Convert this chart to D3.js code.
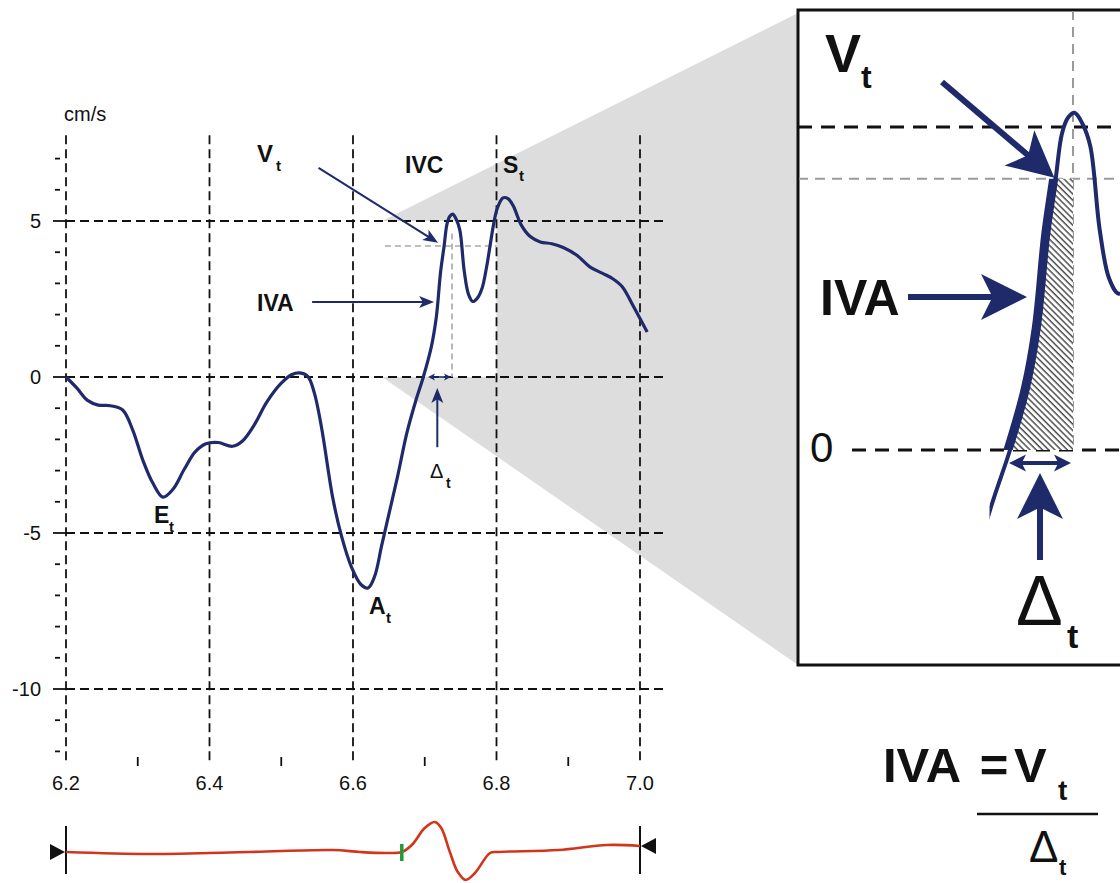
<!DOCTYPE html>
<html><head><meta charset="utf-8">
<script src="https://cdn.jsdelivr.net/npm/d3@7"></script>
<style>
body{margin:0;background:#fff;}
svg{display:block;font-family:"Liberation Sans",Arial,Helvetica,sans-serif;}
</style>
</head><body>
<svg id="c" width="1120" height="883"></svg>
<script>
// ---------------- DATA ----------------
const velTime = [6.200,6.215,6.230,6.245,6.262,6.279,6.293,6.307,6.321,6.335,6.349,6.365,6.380,6.395,6.412,6.432,6.446,6.462,6.480,6.500,6.515,6.526,6.537,6.546,6.556,6.572,6.584,6.598,6.611,6.621,6.630,6.640,6.651,6.662,6.675,6.687,6.698,6.709,6.716,6.722,6.727,6.731,6.735,6.739,6.744,6.749,6.755,6.761,6.767,6.774,6.780,6.786,6.791,6.796,6.801,6.809,6.816,6.823,6.835,6.847,6.861,6.877,6.893,6.912,6.930,6.948,6.962,6.975,6.990,7.010];
const velValue = [0.00,-0.35,-0.75,-0.90,-0.92,-1.06,-1.70,-2.66,-3.40,-3.85,-3.60,-2.95,-2.40,-2.14,-2.10,-2.22,-2.05,-1.55,-0.80,-0.20,0.08,0.13,0.02,-0.50,-1.60,-3.90,-5.10,-6.10,-6.65,-6.76,-6.40,-5.40,-4.30,-3.20,-1.80,-0.80,0.00,0.95,1.90,3.35,4.20,4.90,5.15,5.22,5.05,4.70,3.40,2.65,2.42,2.55,2.85,3.50,4.20,4.90,5.40,5.74,5.72,5.50,4.85,4.50,4.33,4.27,4.15,3.90,3.53,3.32,3.15,2.90,2.30,1.44];
const ecgTime  = [6.200,6.317,6.456,6.572,6.610,6.649,6.668,6.682,6.700,6.714,6.723,6.735,6.746,6.757,6.770,6.791,6.802,6.886,6.954,7.000];
const ecgValue = [0.00,-0.02,0.00,0.02,0.00,-0.01,0.00,0.07,0.24,0.30,0.24,0.00,-0.20,-0.28,-0.21,-0.01,0.00,0.02,0.07,0.06];
const xTickValues = [6.2,6.4,6.6,6.8,7.0];
const xTickLabels = ["6.2","6.4","6.6","6.8","7.0"];
const xMinorTicks = [6.3,6.5,6.7,6.9];
const yTickValues = [5,0,-5,-10];
const yTickLabels = ["5","0","-5","-10"];
const yMinorTicks = [7,6,4,3,2,1,-1,-2,-3,-4,-6,-7,-8,-9,-11,-12];
const vtValue = 4.2;      // V_t level
const tPeak = 6.738;      // IVC peak time (end of Δt)
const tZero = 6.698;      // zero crossing (start of Δt)
const ecgMarkerTime = 6.668;

// ---------------- SETUP ----------------
const svg = d3.select("#c");
const NAVY = "#1f2a6b";
const x  = d3.scaleLinear().domain([6.2, 7.0]).range([66, 640]);
const y  = d3.scaleLinear().domain([0, 5]).range([377, 221]);
const xi = d3.scaleLinear().domain([tZero, tPeak]).range([1010, 1073]);
const yi = d3.scaleLinear().domain([0, 5]).range([450, 127]);
const ye = d3.scaleLinear().domain([0, 0.3]).range([852, 822]);
const vel = velTime.map((t, i) => ({t, v: velValue[i]}));
const ecg = ecgTime.map((t, i) => ({t, v: ecgValue[i]}));

const defs = svg.append("defs");
defs.append("clipPath").attr("id", "insetClip").append("rect")
  .attr("x", 799).attr("y", 11).attr("width", 330).attr("height", 653);
defs.append("clipPath").attr("id", "insetCurveClip").append("rect")
  .attr("x", xi(6.685)).attr("y", 11).attr("width", 200).attr("height", 653);
defs.append("clipPath").attr("id", "bandClip").append("rect")
  .attr("x", 900).attr("y", yi(vtValue)).attr("width", xi(tPeak) - 900).attr("height", yi(0) - yi(vtValue));
const pat = defs.append("pattern").attr("id", "hatch").attr("patternUnits", "userSpaceOnUse")
  .attr("width", 4.4).attr("height", 4.4).attr("patternTransform", "rotate(-45)");
pat.append("rect").attr("width", 4.4).attr("height", 4.4).attr("fill", "#fff");
pat.append("line").attr("x1", 1).attr("y1", 0).attr("x2", 1).attr("y2", 4.4)
  .attr("stroke", "#333").attr("stroke-width", 1.3);

function arrow(g, x1, y1, x2, y2, sw, hl, hw, color) {
  const a = Math.atan2(y2 - y1, x2 - x1), c = Math.cos(a), s = Math.sin(a);
  const nx = x2 - hl * 0.75 * c, ny = y2 - hl * 0.75 * s;
  g.append("line").attr("x1", x1).attr("y1", y1).attr("x2", nx + c).attr("y2", ny + s)
    .attr("stroke", color).attr("stroke-width", sw);
  const bx = x2 - hl * c, by = y2 - hl * s, px = -s, py = c;
  g.append("polygon").attr("points", [
    [x2, y2], [bx + px * hw / 2, by + py * hw / 2], [nx, ny], [bx - px * hw / 2, by - py * hw / 2]
  ].map(p => p.join(",")).join(" ")).attr("fill", color);
}
function txt(g, xx, yy, s, size, weight, anchor) {
  return g.append("text").attr("x", xx).attr("y", yy).text(s)
    .attr("font-size", size).attr("font-weight", weight || "normal")
    .attr("text-anchor", anchor || "start").attr("fill", "#111");
}

// ---------------- ZOOM WEDGE ----------------
const sx0 = x(6.6405), sx1 = x(6.8), sy0 = y(5), sy1 = y(0);
svg.append("polygon").attr("points", `${sx0},${sy0} 798,13 798,665 ${sx0},${sy1}`).attr("fill", "#dddddd");
svg.append("rect").attr("x", sx0).attr("y", sy0).attr("width", sx1 - sx0).attr("height", sy1 - sy0).attr("fill", "#fff");

// ---------------- MAIN GRID / AXES ----------------
const grid = svg.append("g").attr("stroke", "#111").attr("stroke-width", 1.8);
const yTop = y(7.75), yBot = y(-12.3);
grid.selectAll(".vg").data(xTickValues).join("line")
  .attr("x1", d => x(d)).attr("x2", d => x(d)).attr("y1", yTop).attr("y2", yBot)
  .attr("stroke-dasharray", "9,5");
grid.selectAll(".hg").data(yTickValues).join("line")
  .attr("x1", x(6.2)).attr("x2", 668).attr("y1", d => y(d)).attr("y2", d => y(d))
  .attr("stroke-dasharray", "9,5");
grid.selectAll(".ymaj").data(yTickValues).join("line")
  .attr("x1", 53).attr("x2", x(6.2)).attr("y1", d => y(d)).attr("y2", d => y(d));
grid.selectAll(".ymin").data(yMinorTicks).join("line")
  .attr("x1", 55).attr("x2", 60).attr("y1", d => y(d)).attr("y2", d => y(d));
grid.selectAll(".xmin").data(xMinorTicks).join("line")
  .attr("x1", d => x(d)).attr("x2", d => x(d)).attr("y1", 757).attr("y2", 766);

const lab = svg.append("g");
yTickValues.forEach((v, i) => txt(lab, 41, y(v) + 7, yTickLabels[i], 20, "normal", "end"));
xTickValues.forEach((v, i) => txt(lab, x(v), 790, xTickLabels[i], 20, "normal", "middle"));
txt(lab, 64, 121, "cm/s", 20);

// gray Vt guides
svg.append("line").attr("x1", x(6.6445)).attr("x2", x(6.8)).attr("y1", y(vtValue)).attr("y2", y(vtValue))
  .attr("stroke", "#a8a8a8").attr("stroke-width", 1.6).attr("stroke-dasharray", "6,4");
svg.append("line").attr("x1", x(tPeak)).attr("x2", x(tPeak)).attr("y1", y(4.6)).attr("y2", y(0))
  .attr("stroke", "#a8a8a8").attr("stroke-width", 1.6).attr("stroke-dasharray", "6,4");

// ---------------- MAIN CURVE ----------------
const line = d3.line().x(d => x(d.t)).y(d => y(d.v)).curve(d3.curveCatmullRom.alpha(0.5));
svg.append("path").datum(vel).attr("d", line).attr("fill", "none")
  .attr("stroke", NAVY).attr("stroke-width", 3.2).attr("stroke-linejoin", "round");

// annotations (main)
const ann = svg.append("g");
arrow(ann, x(6.552), y(6.7), x(6.7185), y(4.3), 2, 15, 12, NAVY);
arrow(ann, x(6.543), y(2.4), x(6.713), y(2.4), 2, 15, 12, NAVY);
arrow(ann, x(6.7175), y(-2.25), x(6.7175), y(-0.35), 2, 15, 12, NAVY);
arrow(ann, x(6.72), y(0), x(tPeak) - 1, y(0), 1.6, 7, 7, NAVY);
arrow(ann, x(6.72), y(0), x(6.7045), y(0), 1.6, 7, 7, NAVY);
txt(ann, 257, 162, "V", 24, "bold"); txt(ann, 276, 171, "t", 15, "bold");
txt(ann, 257, 311, "IVA", 23, "bold");
txt(ann, 405, 173, "IVC", 23, "bold");
txt(ann, 503, 173, "S", 23, "bold"); txt(ann, 519, 181, "t", 15, "bold");
txt(ann, 154, 523, "E", 23, "bold"); txt(ann, 169, 532, "t", 15, "bold");
txt(ann, 369, 614, "A", 23, "bold"); txt(ann, 386, 623, "t", 15, "bold");
txt(ann, 430, 478, "Δ", 20, "normal"); txt(ann, 446, 488, "t", 14, "bold");

// ---------------- ECG ----------------
const eline = d3.line().x(d => x(d.t)).y(d => ye(d.v)).curve(d3.curveCatmullRom.alpha(0.5));
const eg = svg.append("g");
eg.append("line").attr("x1", x(6.2)).attr("x2", x(6.2)).attr("y1", 826).attr("y2", 874).attr("stroke", "#111").attr("stroke-width", 2);
eg.append("line").attr("x1", x(7.0)).attr("x2", x(7.0)).attr("y1", 826).attr("y2", 874).attr("stroke", "#111").attr("stroke-width", 2);
eg.append("polygon").attr("points", `${x(6.2) - 1},${ye(0)} ${x(6.2) - 16},${ye(0) - 8} ${x(6.2) - 16},${ye(0) + 8}`).attr("fill", "#111");
eg.append("polygon").attr("points", `${x(7.0) + 1},${ye(0.06)} ${x(7.0) + 16},${ye(0.06) - 8} ${x(7.0) + 16},${ye(0.06) + 8}`).attr("fill", "#111");
eg.append("path").datum(ecg).attr("d", eline).attr("fill", "none").attr("stroke", "#d2351c").attr("stroke-width", 2.6);
eg.append("line").attr("x1", x(ecgMarkerTime)).attr("x2", x(ecgMarkerTime)).attr("y1", 844).attr("y2", 861)
  .attr("stroke", "#1e9a3c").attr("stroke-width", 3.5);

// ---------------- INSET ----------------
const ins = svg.append("g");
ins.append("rect").attr("x", 798).attr("y", 10).attr("width", 340).attr("height", 655)
  .attr("fill", "#fff").attr("stroke", "#111").attr("stroke-width", 3);
const ic = ins.append("g").attr("clip-path", "url(#insetClip)");
ic.append("line").attr("x1", 798).attr("x2", 1125).attr("y1", yi(5)).attr("y2", yi(5))
  .attr("stroke", "#111").attr("stroke-width", 3).attr("stroke-dasharray", "14,9");
ic.append("line").attr("x1", 798).attr("x2", 1125).attr("y1", yi(vtValue)).attr("y2", yi(vtValue))
  .attr("stroke", "#9a9a9a").attr("stroke-width", 2).attr("stroke-dasharray", "10,7");
ic.append("line").attr("x1", 852).attr("x2", 1125).attr("y1", yi(0)).attr("y2", yi(0))
  .attr("stroke", "#111").attr("stroke-width", 3).attr("stroke-dasharray", "14,9");
ic.append("line").attr("x1", xi(tPeak)).attr("x2", xi(tPeak)).attr("y1", 10).attr("y2", yi(0))
  .attr("stroke", "#9a9a9a").attr("stroke-width", 2).attr("stroke-dasharray", "10,7");

const iline = d3.line().x(d => xi(d.t)).y(d => yi(d.v)).curve(d3.curveCatmullRom.alpha(0.5));
// hatch area between curve and peak-time line, from 0 to Vt
const rise = vel.filter(d => d.t >= 6.662 && d.t <= tPeak + 0.002);
const hatchPath = iline(rise) + `L${xi(tPeak)},${yi(rise[rise.length - 1].v)}L${xi(tPeak)},${yi(rise[0].v)}Z`;
ic.append("path").attr("d", hatchPath).attr("fill", "url(#hatch)").attr("clip-path", "url(#bandClip)");
const icc = ic.append("g").attr("clip-path", "url(#insetCurveClip)");
icc.append("path").datum(vel).attr("d", iline).attr("fill", "none")
  .attr("stroke", NAVY).attr("stroke-width", 4).attr("stroke-linejoin", "round").attr("stroke-linecap", "round");
icc.append("g").attr("clip-path", "url(#bandClip)").append("path").datum(vel).attr("d", iline)
  .attr("fill", "none").attr("stroke", NAVY).attr("stroke-width", 9).attr("transform", "translate(-2,0)");
// inset annotations
arrow(ins, 942, 82, xi(6.7262), yi(4.2) - 1, 6, 46, 46, NAVY);
arrow(ins, 908, 297, 1027, 297, 6, 46, 46, NAVY);
arrow(ins, 1040, 560, 1040, 473, 6, 46, 46, NAVY);
arrow(ins, 1040, 463, xi(tPeak) - 2, 463, 4, 17, 17, NAVY);
arrow(ins, 1040, 463, xi(tZero) - 1, 463, 4, 17, 17, NAVY);
txt(ins, 825, 72, "V", 54, "bold"); txt(ins, 861, 88, "t", 32, "bold");
txt(ins, 820, 315, "IVA", 50, "bold");
txt(ins, 810, 462, "0", 42, "normal");
txt(ins, 1016, 625, "Δ", 70, "normal"); txt(ins, 1067, 648, "t", 34, "bold");

// ---------------- FORMULA ----------------
const fm = svg.append("g");
txt(fm, 883, 782, "IVA", 49, "bold");
txt(fm, 994, 782, "=", 49, "bold", "middle");
txt(fm, 1014, 782, "V", 49, "bold");
txt(fm, 1058, 800, "t", 28, "bold");
fm.append("line").attr("x1", 977).attr("x2", 1098).attr("y1", 814).attr("y2", 814).attr("stroke", "#111").attr("stroke-width", 2.5);
txt(fm, 1029, 862, "Δ", 44, "normal");
txt(fm, 1059, 875, "t", 22, "bold");
</script>
</body></html>
